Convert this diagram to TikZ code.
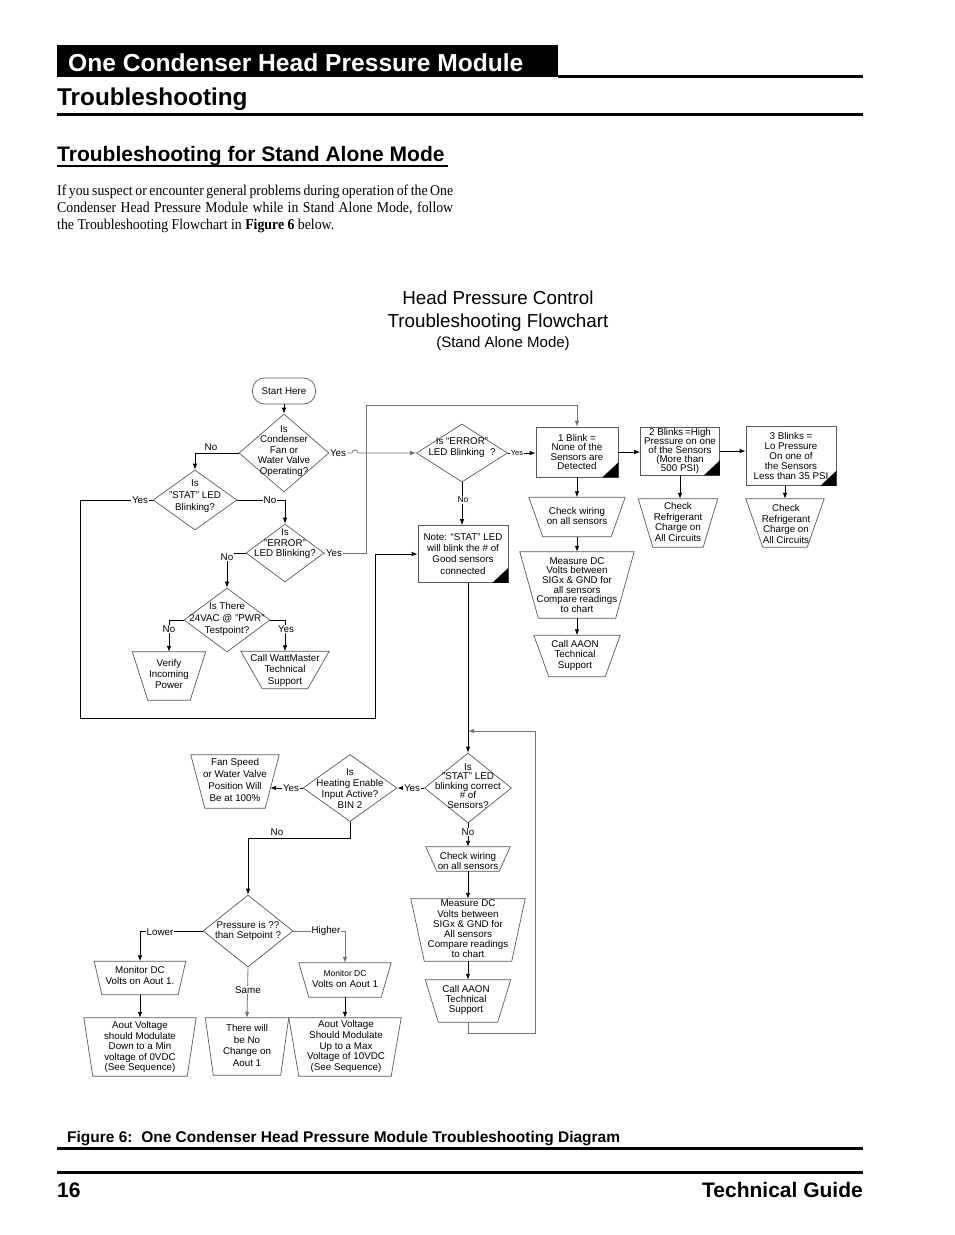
\documentclass[tikz,border=0pt]{standalone}
\usepackage{fontspec}
\setmainfont{Liberation Sans}
\newfontfamily\parafont[FakeStretch=0.92]{Liberation Serif}
\usetikzlibrary{shapes.geometric, arrows.meta, calc}

\begin{document}
\begin{tikzpicture}[x=1pt, y=-1pt,
  every node/.style={font=\fontsize{9.8}{10.2}\selectfont, inner sep=0pt},
  lead/.style={font=\fontsize{9.8}{#1}\selectfont},
  outline/.style={draw=black!65, line width=0.7pt},
  dia/.style={diamond, outline},
  box/.style={rectangle, outline, align=center},
  slot/.style={rectangle},
  txt/.style={align=center},
  lbl/.style={fill=white, inner sep=1pt},
  link/.style={line width=0.8pt},
  arr/.style={link, -{Latex[length=6pt, width=4.5pt]}},
  faint/.style={black!55},
  pagerule/.style={line width=3pt},
]

% page frame
\fill[white] (0,0) rectangle (954,1235);
\useasboundingbox (0,0) rectangle (954,1235);

% ================================================================
% Page header
% ================================================================
\fill (57,45) rectangle (558,77);
\draw[pagerule] (558,76.5) -- (863,76.5);
\node[anchor=base west, text=white, font=\fontsize{24.6}{24.6}\selectfont\bfseries]
  (head) at (68,71) {One Condenser Head Pressure Module};
\node[anchor=base west, font=\fontsize{24.3}{24.3}\selectfont\bfseries]
  (sect) at (57,105) {Troubleshooting};
\draw[pagerule] (57,114.5) -- (863,114.5);
\node[anchor=base west, font=\fontsize{21}{21}\selectfont\bfseries]
  (sub) at (57,161) {Troubleshooting for Stand Alone Mode};
\draw[line width=2pt] (57,165.5) -- (448,165.5);

% --- Paragraph ---
\node[anchor=base west, font=\parafont\fontsize{15}{17}\selectfont] (par1) at (57,195)
  {\makebox[396pt][s]{If you suspect or encounter general problems during operation of the One}};
\node[anchor=base west, font=\parafont\fontsize{15}{17}\selectfont] (par2) at (57,212)
  {\makebox[396pt][s]{Condenser Head Pressure Module while in Stand Alone Mode, follow}};
\node[anchor=base west, font=\parafont\fontsize{15}{17}\selectfont] (par3) at (57,229)
  {the Troubleshooting Flowchart in \textbf{Figure 6} below.};

% --- Chart title ---
\node[anchor=base, font=\fontsize{18.8}{18.8}\selectfont] (title1) at (498,304) {Head Pressure Control};
\node[anchor=base, font=\fontsize{18.8}{18.8}\selectfont] (title2) at (498,327) {Troubleshooting Flowchart};
\node[anchor=base, font=\fontsize{15}{15}\selectfont] (title3) at (503,347) {(Stand Alone Mode)};

% ================================================================
% Flowchart shapes
% ================================================================
\node[box, rounded corners=12pt, minimum width=63, minimum height=26] (start) at (284,391) {Start Here};

% Decisions: name/x/y/width/height
\foreach \n/\x/\y/\w/\h in {d1/284/453/90/78, d2/195/500/84/60, d3/285/553/78/58,
    d4/227/620/86/64, d5/462/453/91/58, d6/468/788/87/70, d7/350/788/94/67, d8/248/931/90/72}
  \node[dia, minimum width=\w, minimum height=\h] (\n) at (\x,\y) {};

% Actions (inverted trapezoids): name/x/y/top width/bottom width/height
\foreach \n/\x/\y/\wt/\wb/\h in {t1/169/676/73/42/48, t2/285/670/88/45/37,
    t3/577/517/96/68/39, t4/577/585/114/77/66, t5/577/656/86/56/41,
    t6/678/523/79/50/48, t7/785/523/78/44/48, t8/468/859/84/62/24,
    t9/235/781.5/88/60/53, t10/468/930/114/87/62, t11/468/1001/85/59/42,
    t12/140/978/91/76/33, t13/345/980/92/72/34, t14/247/1046.5/83/67/57,
    t15/140/1047/112/94/58, t16/345/1047/112/92/58}{
  \node[slot, minimum width=\wt, minimum height=\h] (\n) at (\x,\y) {};
  \draw[outline] (\n.north west) -- (\n.north east)
    -- ([xshift=-(\wt-\wb)/2]\n.south east) -- ([xshift=(\wt-\wb)/2]\n.south west) -- cycle;
}

% Blink result boxes
\node[box, lead=9.1, minimum width=82, minimum height=50] (b1) at (577,452)
  {1 Blink =\\None of the\\Sensors are\\Detected};
\node[box, lead=9.2, minimum width=79, minimum height=48] (b2) at (680,451)
  {2 Blinks\,=High\\Pressure on one\\of the Sensors\\(More than\\500 PSI)};
\node[box, lead=9.8, minimum width=90, minimum height=59] (b3) at (791,456)
  {3 Blinks =\\Lo Pressure\\On one of\\the Sensors\\Less than 35 PSI};
\node[box, lead=11.2, minimum width=90, minimum height=57] (note) at (463,554)
  {Note: “STAT” LED\\will blink the \# of\\Good sensors\\connected};
\foreach \b in {b1, b2, b3, note}
  \fill (\b.south east) -- ++(-16,0) -- ++(16,-15) -- cycle;

% --- Decision texts ---
\node[txt, lead=10.5] (d1t) at (284,451) {Is\\Condenser\\Fan or\\Water Valve\\Operating?};
\node[txt, lead=12.3] (d2t) at (195,496) {Is\\"STAT" LED\\Blinking?};
\node[txt, lead=10.5] (d3t) at (285,544) {Is\\"ERROR"\\LED Blinking?};
\node[txt, lead=12]   (d4t) at (227,619) {Is There\\24VAC @ "PWR"\\Testpoint?};
\node[txt, lead=11]   (d5t) at (462,448) {Is “ERROR”\\LED Blinking\ \ ?};
\node[txt, lead=9.6]  (d6t) at (468,786) {Is\\"STAT" LED\\blinking correct\\\# of\\Sensors?};
\node[txt, lead=11]   (d7t) at (350,789) {Is\\Heating Enable\\Input Active?\\BIN 2};
\node[txt]            (d8t) at (248,931) {Pressure is ??\\than Setpoint ?};

% --- Action texts ---
\node[txt, lead=11]   (t1t)  at (169,674)  {Verify\\Incoming\\Power};
\node[txt, lead=11.5] (t2t)  at (285,670)  {Call WattMaster\\Technical\\Support};
\node[txt]            (t3t)  at (577,516)  {Check wiring\\on all sensors};
\node[txt, lead=9.7]  (t4t)  at (577,585)  {Measure DC\\Volts between\\SIGx \& GND for\\all sensors\\Compare readings\\to chart};
\node[txt, lead=10.5] (t5t)  at (575,655)  {Call AAON\\Technical\\Support};
\node[txt, lead=10.7] (t6t)  at (678,522)  {Check\\Refrigerant\\Charge on\\All Circuits};
\node[txt, lead=10.7] (t7t)  at (786,524)  {Check\\Refrigerant\\Charge on\\All Circuits};
\node[txt]            (t8t)  at (468,861)  {Check wiring\\on all sensors};
\node[txt, lead=12]   (t9t)  at (235,780)  {Fan Speed\\or Water Valve\\Position Will\\Be at 100\%};
\node[txt]            (t10t) at (468,929)  {Measure DC\\Volts between\\SIGx\ \& GND for\\All sensors\\Compare readings\\to chart};
\node[txt]            (t11t) at (466,1000) {Call AAON\\Technical\\Support};
\node[txt, lead=11]   (t12t) at (140,975.5) {Monitor DC\\Volts on Aout 1.};
\node[txt, lead=11]   (t13t) at (345,978.5) {{\fontsize{8.5}{8.5}\selectfont Monitor DC}\\Volts on Aout 1};
\node[txt, lead=11.7] (t14t) at (247,1045.5) {There will\\be No\\Change on\\Aout 1};
\node[txt, lead=10.5] (t15t) at (140,1047) {Aout Voltage\\should Modulate\\Down to a Min\\voltage of 0VDC\\(See Sequence)};
\node[txt, lead=10.7] (t16t) at (346,1046.5) {Aout Voltage\\Should Modulate\\Up to a Max\\Voltage of 10VDC\\(See Sequence)};

% ================================================================
% Connectors
% ================================================================
\coordinate (loopsw) at (80,718);
\coordinate (loopne) at (375,554);
\coordinate (errup)  at (366,405);
\coordinate (retse)  at (535,1033);
\coordinate (retin)  at (468,731);
\coordinate (d7no)   at (350,838);

% --- Upper part ---
\draw[arr] (start.south) -- (d1.north);
\draw[arr] (d1.west) -| (d2.north);
\draw[arr] (d2.east) -| (d3.north);
\draw[arr] (d3.west) -| (d4.north);
\draw[arr] (d4.west) -| (t1.north);
\draw[arr] (d4.east) -| (t2.north);
\draw[arr] (d2.west) -| (loopsw) -| (loopne) -- (note.west);
\draw[arr, faint] (d1.east) -- (352,453) arc (180:360:3) -- (d5.west);
\draw[arr, faint] (d3.east) -| (errup) -| (b1.north);
\draw[arr] (d5.east) -- (d5.east -| b1.west);
\draw[arr] (d5.south) -- (d5.south |- note.north);
\draw[arr] (b1.east) -- (b1.east -| b2.west);
\draw[arr] (b2.east) -- (b2.east -| b3.west);
\draw[arr] (b1.south) -- (t3.north);
\draw[arr] (t3.south) -- (t4.north);
\draw[arr] (t4.south) -- (t5.north);
\draw[arr] (b2.south) -- (b2.south |- t6.north);
\draw[arr] (b3.south -| t7.north) -- (t7.north);

% --- Lower part ---
\draw[arr] (note.south -| d6.north) -- (d6.north);
\draw[arr, faint] (t11.south) |- (retse) |- (retin);
\draw[arr] (d6.west) -- (d7.east);
\draw[arr] (d6.south) -- (t8.north);
\draw[arr] (t8.south) -- (t10.north);
\draw[arr] (t10.south) -- (t11.north);
\draw[arr] (d7.west) -- ($(t9.east |- d7.west)+(-9,0)$);
\draw[arr] (d7.south) -- (d7no) -| (d8.north);
\draw[arr] (d8.west) -| (t12.north);
\draw[arr, faint] (d8.east) -| (t13.north);
\draw[arr, faint] (d8.south) -- (t14.north);
\draw[arr] (t12.south) -- (t15.north);
\draw[arr] (t13.south) -- (t16.north);

% --- Connector labels ---
\node[lbl] (d1no)   at (211,447) {No};
\node[lbl] (d1yes)  at (338,453) {Yes};
\node[lbl] (d2yes)  at (140,500) {Yes};
\node[lbl] (d2no)   at (270,500) {No};
\node[lbl] (d3no)   at (227,557) {No};
\node[lbl] (d3yes)  at (334,553) {Yes};
\node[lbl] (d4no)   at (169,629) {No};
\node[lbl] (d4yes)  at (286,629) {Yes};
\node[lbl, font=\fontsize{7.5}{7.5}\selectfont] (d5yes) at (517,453) {Yes};
\node[lbl, font=\fontsize{8.5}{8.5}\selectfont] (d5no)  at (463,500) {No};
\node[lbl] (d6yes)  at (412,788) {Yes};
\node[lbl] (d6no)   at (468,832) {No};
\node[lbl] (d7yes)  at (291,788) {Yes};
\node[lbl] (d7nol)  at (277,832) {No};
\node[lbl] (lower)  at (160,932) {Lower};
\node[lbl] (higher) at (326,931) {Higher};
\node[lbl] (same)   at (248,990) {Same};

% ================================================================
% Caption and footer
% ================================================================
\node[anchor=base west, font=\fontsize{15.5}{15.5}\selectfont\bfseries] (cap) at (67,1142)
  {Figure 6:\ \ One Condenser Head Pressure Module Troubleshooting Diagram};
\draw[pagerule] (57,1148.5) -- (863,1148.5);
\draw[pagerule] (57,1172.5) -- (863,1172.5);
\node[anchor=base west, font=\fontsize{21}{21}\selectfont\bfseries] (pgno) at (57,1197) {16};
\node[anchor=base east, font=\fontsize{21}{21}\selectfont\bfseries] (guide) at (863,1197) {Technical Guide};

\end{tikzpicture}
\end{document}
